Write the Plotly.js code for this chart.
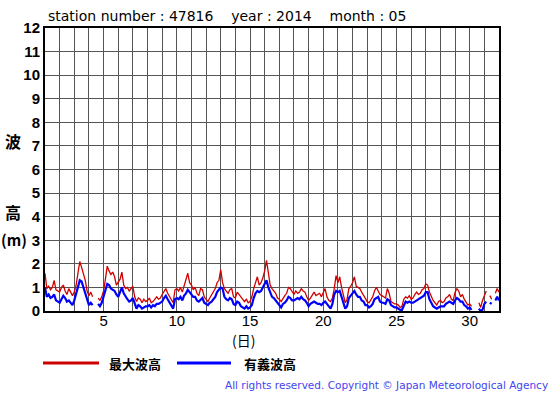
<!DOCTYPE html>
<html>
<head>
<meta charset="utf-8">
<script src="https://cdn.plot.ly/plotly-3.0.1.min.js"></script>
<style>html,body{margin:0;padding:0;background:#fff;}#chart{width:555px;height:395px;}</style>
</head>
<body>
<div id="chart"></div>
<script>
// 3-hourly samples starting at day 1.0 (00h), 8 per day
const startDay = 1;
const stepsPerDay = 8;
const maxWave = [
  1.6,0.95,1.05,0.9,1.0,1.3,0.9,0.85,
  0.8,1.0,1.1,0.85,0.7,0.95,0.8,0.65,
  0.8,1.1,1.6,2.1,1.85,1.6,1.3,0.85,
  0.65,0.8,0.6,null,null,0.55,0.45,0.6,
  0.85,1.35,1.9,1.7,1.55,1.65,1.45,1.1,
  1.2,1.35,1.65,1.1,0.95,1.0,0.85,0.95,
  1.05,0.6,0.4,0.55,0.5,0.35,0.5,0.4,
  0.45,0.55,0.35,0.4,0.5,0.6,0.5,0.55,
  0.7,0.85,0.95,0.75,0.6,0.45,0.35,0.9,
  0.95,0.85,1.0,0.8,1.05,1.3,1.6,1.2,
  1.1,0.9,1.0,0.75,0.65,0.95,0.9,0.6,
  0.5,0.4,0.55,0.7,0.85,0.95,1.2,1.3,
  1.75,1.2,0.95,0.85,0.75,0.9,0.95,0.6,
  0.55,0.8,0.7,0.55,0.45,0.4,0.5,0.35,
  0.4,0.6,0.95,1.2,1.45,1.1,1.2,1.4,
  1.7,2.15,1.5,1.1,0.95,0.85,0.75,0.55,
  0.5,0.4,0.55,0.65,0.75,1.0,0.95,0.8,
  0.7,0.85,0.75,0.8,0.95,0.85,0.8,0.6,
  0.45,0.55,0.7,0.8,0.65,0.7,0.75,0.6,
  0.8,0.95,0.6,0.45,0.4,0.55,0.95,1.5,
  1.2,1.45,1.0,0.7,0.35,0.5,0.95,1.05,
  1.2,1.45,1.05,1.0,0.95,0.8,0.65,0.5,
  0.4,0.35,0.45,0.6,0.85,1.0,0.85,0.7,
  0.65,0.6,0.55,0.95,0.75,0.4,0.35,0.3,
  0.3,0.25,0.15,0.2,0.5,0.6,0.55,0.65,
  0.5,0.55,0.7,0.8,0.7,0.75,0.9,0.95,
  1.15,1.1,0.8,0.6,0.45,0.35,0.25,0.4,
  0.45,0.35,0.4,0.55,0.6,0.7,0.5,0.45,
  0.8,0.95,0.85,0.6,0.7,0.5,0.35,0.25,
  0.3,0.2,null,null,null,0.35,0.15,0.45,
  0.7,0.85,null,0.65,0.5,null,0.75,0.95,
  0.8
];
const sigWave = [
  1.0,0.6,0.7,0.55,0.6,0.7,0.45,0.4,
  0.35,0.5,0.65,0.55,0.4,0.45,0.35,0.25,
  0.45,0.75,1.1,1.3,1.25,1.0,0.75,0.45,
  0.25,0.35,0.25,null,null,0.3,0.2,0.35,
  0.6,0.95,1.15,1.1,0.95,0.9,0.85,0.7,
  0.6,0.8,1.0,0.75,0.6,0.5,0.4,0.45,
  0.55,0.3,0.1,0.25,0.2,0.1,0.15,0.2,
  0.2,0.25,0.15,0.25,0.2,0.3,0.3,0.35,
  0.4,0.55,0.65,0.5,0.35,0.2,0.1,0.5,
  0.55,0.5,0.6,0.45,0.65,0.75,0.9,0.8,
  0.7,0.6,0.6,0.45,0.4,0.5,0.55,0.35,
  0.3,0.25,0.35,0.4,0.5,0.6,0.8,0.9,
  1.0,0.95,0.6,0.5,0.45,0.55,0.5,0.3,
  0.25,0.4,0.35,0.2,0.15,0.1,0.2,0.1,
  0.15,0.25,0.55,0.75,0.85,0.8,0.85,1.0,
  1.15,1.3,1.0,0.75,0.6,0.55,0.45,0.3,
  0.25,0.15,0.3,0.35,0.45,0.6,0.55,0.45,
  0.45,0.5,0.55,0.5,0.6,0.5,0.45,0.35,
  0.2,0.3,0.35,0.4,0.35,0.3,0.3,0.25,
  0.35,0.4,0.3,0.2,0.1,0.3,0.7,0.85,
  0.8,0.85,0.6,0.4,0.1,0.2,0.55,0.65,
  0.75,0.85,0.7,0.6,0.6,0.45,0.4,0.25,
  0.25,0.15,0.2,0.3,0.5,0.55,0.6,0.4,
  0.35,0.35,0.3,0.5,0.45,0.25,0.2,0.15,
  0.15,0.1,0.05,0.05,0.25,0.4,0.35,0.4,
  0.35,0.35,0.4,0.45,0.5,0.55,0.6,0.65,
  0.8,0.8,0.5,0.35,0.2,0.15,0.1,0.15,
  0.2,0.2,0.2,0.3,0.35,0.4,0.35,0.3,
  0.45,0.55,0.5,0.4,0.4,0.25,0.2,0.1,
  0.15,0.05,null,null,null,0.1,0.0,0.05,
  0.3,0.4,null,0.35,0.3,null,0.45,0.6,
  0.45
];
const xTickVals = [5,10,15,20,25,30];
const yTickVals = [0,1,2,3,4,5,6,7,8,9,10,11,12];
const seriesNames = ['最大波高','有義波高'];
const titleText = 'station number : 47816&nbsp;&nbsp;&nbsp;&nbsp;year : 2014&nbsp;&nbsp;&nbsp;&nbsp;month : 05';

const days = maxWave.map((_, i) => startDay + i / stepsPerDay);

const L = 45, R = 499, T = 28, B = 311, W = 555, H = 395;
const px = x => (x - L) / (R - L);
const py = y => (B - y) / (B - T);

const traces = [
  {x: days, y: maxWave, type: 'scatter', mode: 'lines', name: seriesNames[0],
   line: {color: '#d00000', width: 1.3}, connectgaps: false, hoverinfo: 'skip'},
  {x: days, y: sigWave, type: 'scatter', mode: 'lines', name: seriesNames[1],
   line: {color: '#0000ff', width: 2.2}, connectgaps: false, hoverinfo: 'skip'}
];

const cjk = '"Noto Sans CJK JP", sans-serif';
const sans = '"Liberation Sans", Arial, sans-serif';
const wide = '"DejaVu Sans", sans-serif';

const layout = {
  width: W, height: H,
  margin: {l: L, r: W - R, t: T, b: H - B, pad: 0},
  paper_bgcolor: '#ffffff', plot_bgcolor: '#ffffff',
  showlegend: false,
  font: {family: sans, color: '#000'},
  xaxis: {
    range: [1, 32], tickvals: xTickVals, ticktext: xTickVals.map(String),
    showgrid: true, gridcolor: '#555', gridwidth: 1,
    minor: {dtick: 1, showgrid: true, gridcolor: '#555', gridwidth: 1, ticks: ''},
    ticks: '', showline: true, linecolor: '#000', linewidth: 2, mirror: true,
    ticklabelstandoff: -5,
    zeroline: false, tickfont: {family: sans, size: 15, color: '#000'}
  },
  yaxis: {
    range: [0, 12], tickvals: yTickVals, ticktext: yTickVals.map(v => '<b>' + v + '</b>'),
    showgrid: true, gridcolor: '#555', gridwidth: 1,
    ticks: '', showline: true, linecolor: '#000', linewidth: 2, mirror: true,
    zeroline: false, tickfont: {family: sans, size: 15, color: '#000'}
  },
  shapes: [
    {type: 'line', xref: 'paper', yref: 'paper', x0: px(43), x1: px(99), y0: py(363), y1: py(363),
     line: {color: '#cc0000', width: 3}},
    {type: 'line', xref: 'paper', yref: 'paper', x0: px(177), x1: px(231), y0: py(363), y1: py(363),
     line: {color: '#0000ff', width: 3}}
  ],
  annotations: [
    {text: titleText, xref: 'paper', yref: 'paper', x: px(46), y: py(16), xanchor: 'left', yanchor: 'middle',
     showarrow: false, font: {family: wide, size: 14, color: '#000'}},
    {text: '<b>波</b>', xref: 'paper', yref: 'paper', x: px(13), y: py(141), xanchor: 'center', yanchor: 'middle',
     showarrow: false, font: {family: cjk, size: 16, color: '#000'}},
    {text: '<b>高</b>', xref: 'paper', yref: 'paper', x: px(13), y: py(212), xanchor: 'center', yanchor: 'middle',
     showarrow: false, font: {family: cjk, size: 16, color: '#000'}},
    {text: '<b>(m)</b>', xref: 'paper', yref: 'paper', x: px(14), y: py(239), xanchor: 'center', yanchor: 'middle',
     showarrow: false, font: {family: cjk, size: 15, color: '#000'}},
    {text: '(日)', xref: 'paper', yref: 'paper', x: px(243), y: py(340), xanchor: 'center', yanchor: 'middle',
     showarrow: false, font: {family: cjk, size: 14, color: '#000'}},
    {text: '<b>' + seriesNames[0] + '</b>', xref: 'paper', yref: 'paper', x: px(107), y: py(363), xanchor: 'left', yanchor: 'middle',
     showarrow: false, font: {family: cjk, size: 13, color: '#000'}},
    {text: '<b>' + seriesNames[1] + '</b>', xref: 'paper', yref: 'paper', x: px(242), y: py(363), xanchor: 'left', yanchor: 'middle',
     showarrow: false, font: {family: cjk, size: 13, color: '#000'}},
    {text: 'All rights reserved. Copyright © Japan Meteorological Agency', xref: 'paper', yref: 'paper',
     x: px(550), y: py(385), xanchor: 'right', yanchor: 'middle',
     showarrow: false, font: {family: wide, size: 10.5, color: '#4444ee'}}
  ]
};

Plotly.newPlot('chart', traces, layout, {staticPlot: true, displayModeBar: false});
</script>
</body>
</html>
